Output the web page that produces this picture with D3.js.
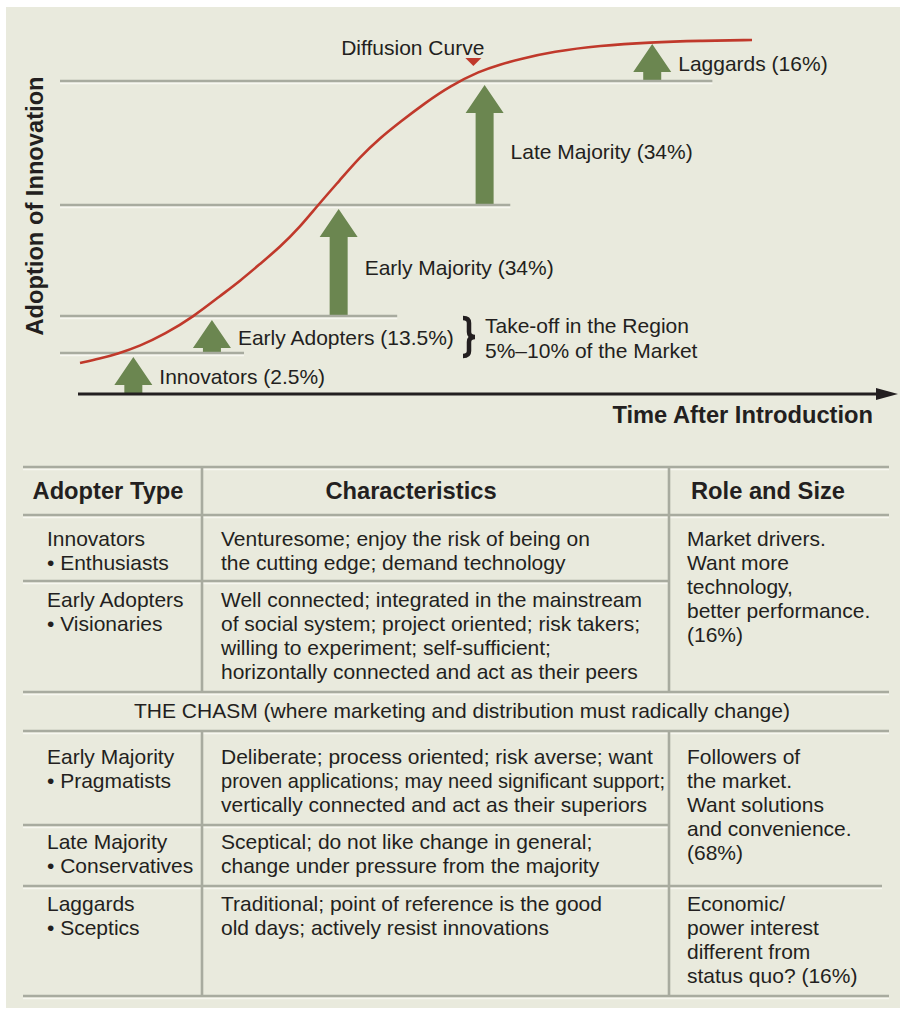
<!DOCTYPE html>
<html>
<head>
<meta charset="utf-8">
<script src="https://cdn.jsdelivr.net/npm/d3@7"></script>
<style>
  body { margin: 0; background: #fff; }
  svg { display: block; font-family: "Liberation Sans", Arial, Helvetica, sans-serif; }
</style>
</head>
<body>
<svg id="chart"></svg>
<script>
const width = 900, height = 1009;

// adopter groups and their share of the market (%)
const categories = ['Innovators', 'Early Adopters', 'Early Majority', 'Late Majority', 'Laggards'];
const shares = [2.5, 13.5, 34, 34, 16];
const shareLabels = ['2.5%', '13.5%', '34%', '34%', '16%'];
// where each arrow stands on the time axis (0-100)
const arrowTime = [6.9, 16.7, 32.5, 50.7, 71.6];
// where the level lines (2.5, 16, 50, 84 %) stop on the time axis
const levelEnd = [20.7, 39.8, 53.9, 79.1];

// diffusion curve: time vs cumulative adoption (%)
const curveTime = [0.25, 2.74, 4.86, 7.73, 10.85, 14.34, 17.71, 20.2, 22.69, 25.19, 27.68, 29.93, 32.67, 35.16, 37.66, 40.15, 43.27, 46.38, 50.12, 52.62, 55.11, 59.23, 65.09, 71.32, 77.56, 84.04];
const curveAdoption = [1.89, 2.16, 2.44, 5.05, 9.43, 15.64, 22.13, 26.72, 31.93, 37.13, 43.26, 50.0, 56.86, 63.16, 68.37, 72.76, 77.97, 82.63, 87.9, 90.44, 92.58, 95.51, 97.85, 99.1, 99.69, 100];
const markerTime = 49.3;

// table
const headers = ['Adopter Type', 'Characteristics', 'Role and Size'];
const adopterTypes = [
  ['Innovators', '• Enthusiasts'],
  ['Early Adopters', '• Visionaries'],
  ['Early Majority', '• Pragmatists'],
  ['Late Majority', '• Conservatives'],
  ['Laggards', '• Sceptics']
];
const characteristics = [
  ['Venturesome; enjoy the risk of being on', 'the cutting edge; demand technology'],
  ['Well connected; integrated in the mainstream', 'of social system; project oriented; risk takers;', 'willing to experiment; self-sufficient;', 'horizontally connected and act as their peers'],
  ['Deliberate; process oriented; risk averse; want', 'proven applications; may need significant support;', 'vertically connected and act as their superiors'],
  ['Sceptical; do not like change in general;', 'change under pressure from the majority'],
  ['Traditional; point of reference is the good', 'old days; actively resist innovations']
];
const roles = [
  ['Market drivers.', 'Want more', 'technology,', 'better performance.', '(16%)'],
  ['Followers of', 'the market.', 'Want solutions', 'and convenience.', '(68%)'],
  ['Economic/', 'power interest', 'different from', 'status quo? (16%)']
];
const roleRows = [[0, 1], [2, 3], [4, 4]];
const chasmText = 'THE CHASM (where marketing and distribution must radically change)';

const ink = '#231f20', rule = '#a8ab9f', green = '#6b8650', red = '#c0392b';

const svg = d3.select('#chart')
    .attr('width', width)
    .attr('height', height)
    .attr('viewBox', [0, 0, width, height]);

svg.append('rect')
    .attr('x', 6).attr('y', 7)
    .attr('width', width - 6).attr('height', 1001)
    .attr('fill', '#e9eadd');

// ---------- diffusion chart ----------
const cum = d3.cumsum(shares);
const x = d3.scaleLinear().domain([0, 100]).range([78, 880]);
const y = d3.scaleLinear()
    .domain([0, ...cum])
    .range([394, 353, 316, 205, 81, 40]);

const chart = svg.append('g');

const arrows = categories.map((c, i) => ({
  name: c,
  label: `${c} (${shareLabels[i]})`,
  t: arrowTime[i],
  lo: i ? cum[i - 1] : 0,
  hi: cum[i]
}));

const arrowPath = d => {
  const cx = x(d.t), b = y(d.lo) - 1, tip = y(d.hi) + 4, head = 28;
  return `M${cx - 9},${b}V${tip + head}H${cx - 19}L${cx},${tip}L${cx + 19},${tip + head}H${cx + 9}V${b}Z`;
};

chart.append('g')
  .selectAll('path')
  .data(arrows)
  .join('path')
    .attr('d', arrowPath)
    .attr('fill', green);

// level lines
const levels = chart.append('g')
  .selectAll('g')
  .data(cum.slice(0, -1))
  .join('g');

levels.append('line')
    .attr('x1', x.range()[0] - 18)
    .attr('x2', (d, i) => x(levelEnd[i]))
    .attr('y1', d => y(d) + 2.3)
    .attr('y2', d => y(d) + 2.3)
    .attr('stroke', '#f7f7f0')
    .attr('stroke-width', 2);

levels.append('line')
    .attr('x1', x.range()[0] - 18)
    .attr('x2', (d, i) => x(levelEnd[i]))
    .attr('y1', d => y(d))
    .attr('y2', d => y(d))
    .attr('stroke', rule)
    .attr('stroke-width', 2.6);

chart.append('g')
    .style('font-size', '21px')
    .attr('fill', ink)
  .selectAll('text')
  .data(arrows)
  .join('text')
    .attr('x', d => x(d.t) + 26)
    .attr('y', d => {
      const b = y(d.lo), tip = y(d.hi) + 4;
      return (b + tip) / 2 + 0.06 * (b - tip) + 6.5;
    })
    .text(d => d.label);

// curve
const line = d3.line()
    .x(i => x(curveTime[i]))
    .y(i => y(curveAdoption[i]))
    .curve(d3.curveBasis);

chart.append('path')
    .attr('d', line(d3.range(curveTime.length)))
    .attr('fill', 'none')
    .attr('stroke', red)
    .attr('stroke-width', 2.6);

// marker + label
const mx = x(markerTime), my = y(84) - 15;
chart.append('path')
    .attr('d', `M${mx - 8},${my - 8}H${mx + 8}L${mx},${my}Z`)
    .attr('fill', red);

chart.append('text')
    .attr('x', mx + 11)
    .attr('y', my - 11)
    .attr('text-anchor', 'end')
    .attr('fill', ink)
    .style('font-size', '21px')
    .text('Diffusion Curve');

// take-off brace
const bx = 463, bTop = y(16) + 2, bBot = y(2.5) + 3, bMid = (bTop + bBot) / 2, bw = 12, r = 5;
chart.append('path')
    .attr('d', `M${bx},${bTop}Q${bx + bw / 2},${bTop} ${bx + bw / 2},${bTop + r}` +
               `L${bx + bw / 2},${bMid - r}Q${bx + bw / 2},${bMid} ${bx + bw},${bMid}` +
               `Q${bx + bw / 2},${bMid} ${bx + bw / 2},${bMid + r}` +
               `L${bx + bw / 2},${bBot - r}Q${bx + bw / 2},${bBot} ${bx},${bBot}`)
    .attr('fill', 'none')
    .attr('stroke', ink)
    .attr('stroke-width', 4.5);

chart.append('text')
    .attr('fill', ink)
    .style('font-size', '21px')
  .selectAll('tspan')
  .data(['Take-off in the Region', '5%–10% of the Market'])
  .join('tspan')
    .attr('x', 485)
    .attr('y', (d, i) => 333 + i * 25)
    .text(d => d);

// time axis
chart.append('line')
    .attr('x1', x(0)).attr('x2', x(100))
    .attr('y1', y(0)).attr('y2', y(0))
    .attr('stroke', ink)
    .attr('stroke-width', 3);

chart.append('path')
    .attr('d', `M${x(100) - 4},${y(0) - 6}L${x(100) + 18},${y(0)}L${x(100) - 4},${y(0) + 6}Z`)
    .attr('fill', ink);

chart.append('text')
    .attr('x', 873)
    .attr('y', 423)
    .attr('text-anchor', 'end')
    .attr('fill', ink)
    .style('font-size', '23.7px')
    .style('font-weight', 'bold')
    .text('Time After Introduction');

chart.append('text')
    .attr('transform', 'translate(43,206) rotate(-90)')
    .attr('text-anchor', 'middle')
    .attr('fill', ink)
    .style('font-size', '23.7px')
    .style('font-weight', 'bold')
    .text('Adoption of Innovation');

// ---------- table ----------
const table = svg.append('g');
const colX = [23, 202, 669, 889];
const textX = [47, 221, 687];
const headerX = [108, 411, 768];
const tableTop = 467;
// header, 2 rows, chasm, 3 rows
const rowHeights = [48, 66, 111, 39, 94, 61, 110];
const rowEdges = [tableTop, ...d3.cumsum(rowHeights).map(h => tableTop + h)];
const typeRowIdx = [1, 2, 4, 5, 6];
const firstBase = [31, 26, 33, 24, 25];
const lh = 24;

const hRules = rowEdges.map((e, i) => ({
  y: e,
  x2: (i === 2 || i === 5) ? colX[2] : (i === 6 ? 882 : colX[3])
}));

table.append('g')
  .selectAll('line')
  .data(hRules)
  .join('line')
    .attr('x1', colX[0]).attr('x2', d => d.x2)
    .attr('y1', d => d.y + 2.3).attr('y2', d => d.y + 2.3)
    .attr('stroke', '#f7f7f0').attr('stroke-width', 1.8);

table.append('g')
  .selectAll('line')
  .data(hRules)
  .join('line')
    .attr('x1', colX[0]).attr('x2', d => d.x2)
    .attr('y1', d => d.y).attr('y2', d => d.y)
    .attr('stroke', rule).attr('stroke-width', 2.6);

const vRules = [];
[colX[1], colX[2]].forEach(cx => {
  vRules.push({x: cx, y1: rowEdges[0], y2: rowEdges[3]});
  vRules.push({x: cx, y1: rowEdges[4], y2: rowEdges[7]});
});

table.append('g')
  .selectAll('line')
  .data(vRules)
  .join('line')
    .attr('x1', d => d.x).attr('x2', d => d.x)
    .attr('y1', d => d.y1 + 1).attr('y2', d => d.y2 - 1)
    .attr('stroke', rule).attr('stroke-width', 2.6);

table.append('g')
    .attr('fill', ink)
    .style('font-size', '23.7px')
    .style('font-weight', 'bold')
    .attr('text-anchor', 'middle')
  .selectAll('text')
  .data(headers)
  .join('text')
    .attr('x', (d, i) => headerX[i])
    .attr('y', rowEdges[0] + 32)
    .text(d => d);

const body = table.append('g')
    .attr('fill', ink)
    .style('font-size', '21px');

// one text per line; squeeze a line that would run into the next column
function block(lines, col, y0) {
  const maxW = colX[col + 1] - textX[col] - 4;
  body.append('g')
    .selectAll('text')
    .data(lines)
    .join('text')
      .attr('x', textX[col])
      .attr('y', (d, i) => y0 + i * lh)
      .text(d => d)
      .each(function() {
        if (this.getComputedTextLength() > maxW)
          d3.select(this).attr('textLength', maxW).attr('lengthAdjust', 'spacingAndGlyphs');
      });
}

adopterTypes.forEach((lines, i) => {
  const y0 = rowEdges[typeRowIdx[i]] + firstBase[i];
  block(lines, 0, y0);
  block(characteristics[i], 1, y0);
});

roles.forEach((lines, i) => {
  const r = roleRows[i][0];
  block(lines, 2, rowEdges[typeRowIdx[r]] + firstBase[r]);
});

body.append('text')
    .attr('x', 462)
    .attr('y', rowEdges[3] + 26)
    .attr('text-anchor', 'middle')
    .text(chasmText);
</script>
</body>
</html>
